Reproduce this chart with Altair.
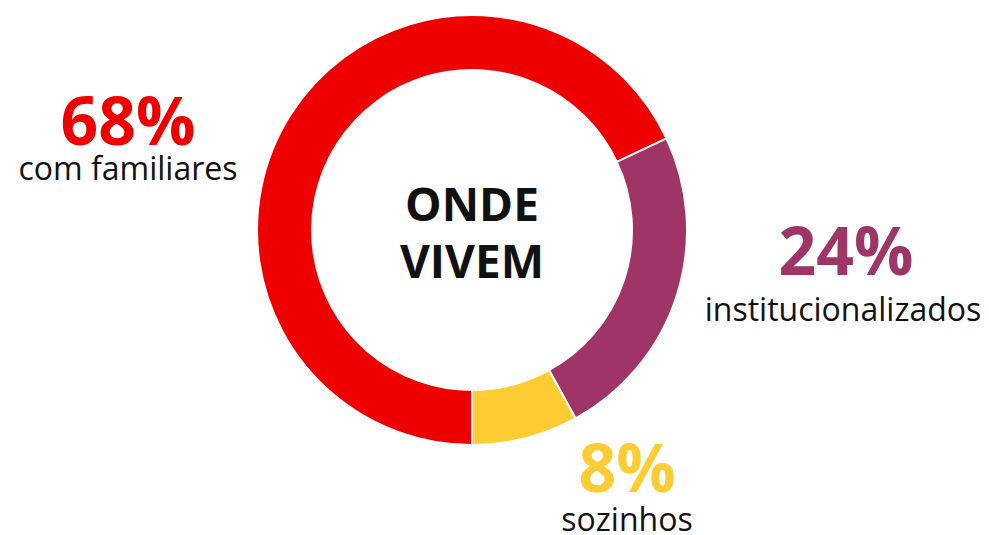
import math
import altair as alt
import pandas as pd

# Data
categories = ["com familiares", "institucionalizados", "sozinhos"]
values = [68, 24, 8]
pct_labels = ["68%", "24%", "8%"]
colors = ["#EE0000", "#9E3566", "#FFCC33"]
center_lines = ["ONDE", "VIVEM"]

# Layout (pixel positions in plot coordinates)
pct_x = [120, 838, 619]
name_x = [120, 835, 619]
pct_y = [137, 267, 484]
name_y = [172, 313, 523]
center_x, center_y = 464, 222

df = pd.DataFrame({"cat": categories, "value": values, "order": [0, 1, 2]})
lab = pd.DataFrame({"cat": categories, "pct": pct_labels, "px": pct_x,
                    "nx": name_x, "py": pct_y, "ny": name_y})
cen = pd.DataFrame({"t": center_lines, "y": [213, 270]})

color_scale = alt.Scale(domain=categories, range=colors)

arc = alt.Chart(df).mark_arc(
    radius=215, radius2=160, stroke="white", strokeWidth=2
).encode(
    theta=alt.Theta("value:Q", stack=True,
                    scale=alt.Scale(range=[math.pi, 3 * math.pi])),
    order=alt.Order("order:Q"),
    color=alt.Color("cat:N", scale=color_scale, legend=None),
    x=alt.value(center_x),
    y=alt.value(center_y),
)

pct = alt.Chart(lab).mark_text(
    font="Open Sans", fontWeight="bold", fontSize=66, align="center",
    baseline="alphabetic"
).encode(
    x=alt.X("px:Q", scale=None),
    y=alt.Y("py:Q", scale=None),
    text="pct:N",
    color=alt.Color("cat:N", scale=color_scale, legend=None),
)

names = alt.Chart(lab).mark_text(
    font="Open Sans", fontSize=32, align="center", baseline="alphabetic",
    color="#111111"
).encode(
    x=alt.X("nx:Q", scale=None),
    y=alt.Y("ny:Q", scale=None),
    text="cat:N",
)

center = alt.Chart(cen).mark_text(
    font="Open Sans", fontWeight="bold", fontSize=46, align="center",
    baseline="alphabetic", color="#111111"
).encode(
    x=alt.value(center_x),
    y=alt.Y("y:Q", scale=None),
    text="t:N",
)

chart = alt.layer(arc, pct, names, center).properties(
    width=973, height=527,
    autosize=alt.AutoSizeParams(type="none"),
    padding=0,
).configure_view(stroke=None)

chart.save("out.html", embed_options={"renderer": "svg", "actions": False})
